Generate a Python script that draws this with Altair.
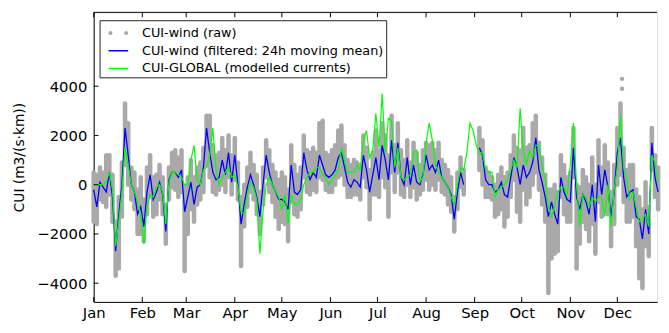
import altair as alt
import pandas as pd

START_DATE = "2015-01-01"
STEP = "2D"

# 2-day samples, day 0 .. day 360 (None = no data)
filtered = [
    -200, -900, 100, -100, -300, 500, -500, -2700, -1200, 0,
    2300, 1200, 0, -300, -1200, -900, -1700, -300, 400, -600,
    -300, 100, -400, -1900, 200, 500, 500, 300, 600, -1100,
    -500, 100, -800, -100, 0, 700, 2300, 1300, 500, 200,
    300, 1000, 400, 1300, 100, 1200, 0, -1600, -800, -100,
    400, 0, -500, -1300, 0, 1200, 500, 0, -300, -600,
    -600, -700, -1000, 800, -300, -400, -200, 1300, 600, 200,
    500, 300, 1200, 800, 400, 300, 400, 600, 1100, 1300,
    700, 100, -100, 200, 100, -100, 1200, 600, -300, 400,
    1100, 200, 1600, 1000, 200, 1800, 500, 1700, 300, 0,
    1100, 0, 800, 100, 0, 400, 1200, 600, 800, 500,
    1000, 300, 100, -100, -400, -1400, -300, 500, 0, None,
    None, None, None, 1500, 1200, 200, 0, 0, -300, -200,
    100, -400, -500, 300, 1100, 700, 0, 800, 300, 500,
    900, 1900, 600, 100, -500, -1300, -700, -1200, -1600, 300,
    -300, -600, -700, 1500, -500, -1000, -400, -700, -1200, 0,
    -1500, 800, -400, 600, -100, -1300, -300, 1300, 1900, 300,
    -500, -300, -200, -1300, -1400, -2200, -1000, -2000, 1700, 300, -300,
]

modelled = [
    0, 0, 0, 0, 100, 500, -200, -2500, -1500, -300,
    1500, 800, 0, -300, -700, -1200, -2400, -900, -400, -500,
    -100, 0, -300, -1600, 100, 500, 500, 400, 300, 0,
    0, 1000, 1600, 200, 0, 600, 700, 1200, 2300, 600,
    0, 300, 500, 700, 300, 400, -100, -1100, -1200, -400,
    100, -100, -600, -2800, -1100, 0, 300, 0, -300, -500,
    -1000, -400, -1600, -400, -800, -800, -600, 0, 300, 500,
    500, 700, 700, 400, 300, 0, 200, 400, 600, 1500,
    1000, 500, 500, 500, 800, 600, 1800, 2200, 1100, 1400,
    2900, 1500, 3700, 1300, 2700, 2600, 700, 1500, 300, 200,
    300, 400, 1300, 1400, 100, 300, 1700, 2500, 1800, 800,
    500, 300, 100, -100, -500, -800, 0, 700, 600, 1300,
    2500, 2200, 1600, 1300, 1300, 600, 500, 500, -500, -200,
    -100, 0, 200, 600, 1000, 700, 3100, 1400, 800, 1400,
    1100, 1600, 1600, 800, 200, -900, -1300, -900, -300, -100,
    -100, -400, 800, 2500, 0, -1700, -400, -500, -900, -500,
    -700, -500, -500, -1300, 0, -1700, -200, 700, 2800, 700,
    200, -600, -300, -900, -1500, -1400, -1200, -1700, 1200, 900, 100,
]

raw_low = [
    -1500, -1600, -600, -700, -900, -400, -1500, -3700, -3400, -1300,
    800, 0, -600, -1000, -2000, -2000, -2300, -1200, -500, -1300,
    -1200, -600, -1200, -2400, -600, -100, -200, -500, -300, -3500,
    -2000, -1000, -1500, -800, -600, -300, 800, 300, -300, -400,
    -200, 0, -300, 300, -400, 200, -600, -3300, -1700, -900,
    -300, -600, -1200, -2000, -800, 300, -300, -700, -1300, -1800,
    -1500, -1600, -2300, -700, -1200, -1300, -1000, 300, -300, -400,
    -200, -300, 300, 200, -200, -300, -300, 0, 300, 400,
    0, -500, -500, -400, -400, -600, 300, -100, -1400, -400,
    -400, -500, 300, -100, -1300, 500, -300, 500, -400, -500,
    0, -500, -100, -600, -400, -200, 200, -200, 0, -200,
    200, -300, -400, -800, -1100, -1900, -1000, -100, -400, None,
    None, None, None, 600, 0, -500, -500, -600, -1300, -1200,
    -1000, -1700, -1300, -500, 200, -1100, -1500, -200, -800, -500,
    0, 500, -200, -800, -1500, -4400, -3000, -2800, -2700, -500,
    -1200, -1500, -1500, 300, -3400, -2400, -1500, -1800, -2300, -1600,
    -2800, -700, -1300, -1000, -1200, -2500, -1600, 0, 400, -700,
    -1500, -1500, -1300, -2500, -3800, -4200, -2500, -2900, 600, -500, -1000,
]

raw_high = [
    500, 400, 700, 500, 1200, 1200, 400, -1500, -500, 900,
    3300, 2500, 700, 500, -200, 300, -600, 700, 1200, 300,
    400, 800, 300, -800, 700, 1300, 1400, 1100, 1400, -100,
    300, 1000, 300, 700, 900, 1500, 2800, 2800, 1600, 1200,
    1300, 1900, 1400, 2000, 1200, 1900, 900, -500, 0, 700,
    1300, 800, 400, -300, 700, 1800, 1400, 800, 500, 200,
    500, 300, -200, 1600, 800, 400, 700, 2000, 1400, 1300,
    1500, 1300, 2500, 2600, 1300, 1200, 1400, 1600, 2200, 2400,
    1600, 1000, 800, 1000, 900, 800, 2000, 1500, 600, 1300,
    2200, 1400, 2500, 2000, 1200, 2800, 1600, 2500, 1400, 1000,
    1800, 900, 1700, 1300, 800, 1400, 1700, 1600, 1700, 1400,
    1700, 1000, 800, 600, 300, -500, 500, 1100, 600, None,
    None, None, None, 2300, 1800, 700, 500, 300, 0, 400,
    700, 300, 500, 1200, 2000, 1500, 1400, 2300, 1500, 1600,
    2500, 2800, 1700, 1100, 400, -200, -200, 0, -300, 1200,
    800, 300, 500, 2300, 0, -100, 600, 300, 0, 1100,
    0, 1800, 700, 1600, 900, -300, 800, 2300, 3300, 1500,
    600, 800, 800, -200, -500, -1000, 100, -900, 2300, 1200, 700,
]

outlier_day = [337, 337]
outlier_val = [4300, 3900]

y_tick_values = [-4000, -2000, 0, 2000, 4000]
Y_MIN, Y_MAX = -4760, 7000
month_starts = pd.date_range("2015-01-01", periods=12, freq="MS")

LAB_RAW = "CUI-wind (raw)"
LAB_FILT = "CUI-wind (filtered: 24h moving mean)"
LAB_GLOB = "CUI-GLOBAL (modelled currents)"
series_labels = [LAB_RAW, LAB_FILT, LAB_GLOB]
GRAY = "#a9a9a9"
BLUE = "#0000ff"
GREEN = "#00ff00"
FONT = "DejaVu Sans"

dates = pd.date_range(START_DATE, periods=len(filtered), freq=STEP)
df = pd.DataFrame({"date": dates, "filtered": filtered, "modelled": modelled,
                   "lo": raw_low, "hi": raw_high})
df["part"] = df["filtered"].isna().cumsum()
raw_df = df.dropna(subset=["lo", "hi"])[["date", "lo", "hi"]]
filt_df = df.dropna(subset=["filtered"])[["date", "filtered", "part"]]
mod_df = df[["date", "modelled"]]
out_df = pd.DataFrame({"date": pd.Timestamp(START_DATE) + pd.to_timedelta(outlier_day, unit="D"),
                       "v": outlier_val})
month_df = pd.DataFrame({"date": month_starts})
ytick_df = pd.DataFrame({"v": y_tick_values})
frame_df = pd.DataFrame({"k": [0]})
legend_df = pd.DataFrame({"series": series_labels})

x_dom = [alt.DateTime(year=2015, month=1, date=1),
         alt.DateTime(year=2015, month=12, date=26, hours=8)]

# two small dots (stroked concentric circles) in the -1..1 symbol box
DOTS = ("M-0.67,0a0.13,0.13 0 1,0 -0.26,0a0.13,0.13 0 1,0 0.26,0"
        "M-0.74,0a0.06,0.06 0 1,0 -0.12,0a0.06,0.06 0 1,0 0.12,0"
        "M0.93,0a0.13,0.13 0 1,0 -0.26,0a0.13,0.13 0 1,0 0.26,0"
        "M0.86,0a0.06,0.06 0 1,0 -0.12,0a0.06,0.06 0 1,0 0.12,0")


def make_legend():
    return alt.Legend(
        title=None, orient="none", legendX=6, legendY=8, direction="vertical",
        labelFont=FONT, labelFontSize=13, labelColor="black", labelOffset=13,
        symbolSize=400, symbolOffset=6, symbolStrokeWidth=1.5, symbolOpacity=1,
        rowPadding=0, padding=2, strokeColor="#222222", fillColor="white",
        cornerRadius=0, labelLimit=400,
    )


x_enc = alt.X("date:T", title=None,
              scale=alt.Scale(domain=x_dom, nice=False),
              axis=alt.Axis(format="%b", tickCount="month", ticks=False, grid=False,
                            labelFont=FONT, labelFontSize=15, labelColor="black",
                            labelPadding=4, domainColor="black", labelFlush=False,
                            labelOverlap=False))

raw = alt.Chart(raw_df).mark_rule(strokeWidth=4.6, strokeCap="round", color=GRAY).encode(
    x=x_enc,
    y=alt.Y("lo:Q", title="CUI (m3/(s·km))",
            scale=alt.Scale(domain=[Y_MIN, Y_MAX], nice=False),
            axis=alt.Axis(values=y_tick_values, format="d", ticks=False, grid=False,
                          labelFont=FONT, labelFontSize=15, labelColor="black",
                          labelPadding=7, domainColor="black",
                          titleFont=FONT, titleFontSize=14, titleFontWeight="normal",
                          titleColor="black", titlePadding=11)),
    y2="hi:Q",
)

outliers = alt.Chart(out_df).mark_circle(size=20, opacity=1, color=GRAY).encode(
    x="date:T", y="v:Q")

blue = alt.Chart(filt_df).mark_line(strokeWidth=1.3, color=BLUE).encode(
    x="date:T", y="filtered:Q", detail="part:N")

green = alt.Chart(mod_df).mark_line(strokeWidth=1.2, color=GREEN).encode(
    x="date:T", y="modelled:Q")

legend_layer = alt.Chart(legend_df).mark_point(filled=False, opacity=0).encode(
    color=alt.Color("series:N", scale=alt.Scale(domain=series_labels, range=[GRAY, BLUE, GREEN]),
                    legend=make_legend()),
    shape=alt.Shape("series:N", scale=alt.Scale(domain=series_labels, range=[DOTS, "stroke", "stroke"]),
                    legend=make_legend()),
)

bottom_ticks = alt.Chart(month_df).mark_rule(color="black", strokeWidth=1).encode(
    x="date:T", y=alt.datum(Y_MIN), y2=alt.datum(Y_MIN + 200))
top_ticks = alt.Chart(month_df).mark_rule(color="black", strokeWidth=1).encode(
    x="date:T", y=alt.datum(Y_MAX), y2=alt.datum(Y_MAX - 200))
left_ticks = alt.Chart(ytick_df).mark_rule(color="black", strokeWidth=1).encode(
    y="v:Q",
    x=alt.datum(alt.DateTime(year=2015, month=1, date=1)),
    x2=alt.datum(alt.DateTime(year=2015, month=1, date=4)))
top_frame = alt.Chart(frame_df).mark_rule(color="black", strokeWidth=1).encode(
    y=alt.datum(Y_MAX))

chart = alt.layer(raw, outliers, blue, green, bottom_ticks, top_ticks, left_ticks,
                  top_frame, legend_layer).properties(
    width=572, height=294,
    padding={"left": 4, "top": 1, "right": 0, "bottom": 0},
    background="white",
).configure_view(stroke=None).configure(font=FONT)

chart.save("out.html", embed_options={"renderer": "svg", "actions": False})
